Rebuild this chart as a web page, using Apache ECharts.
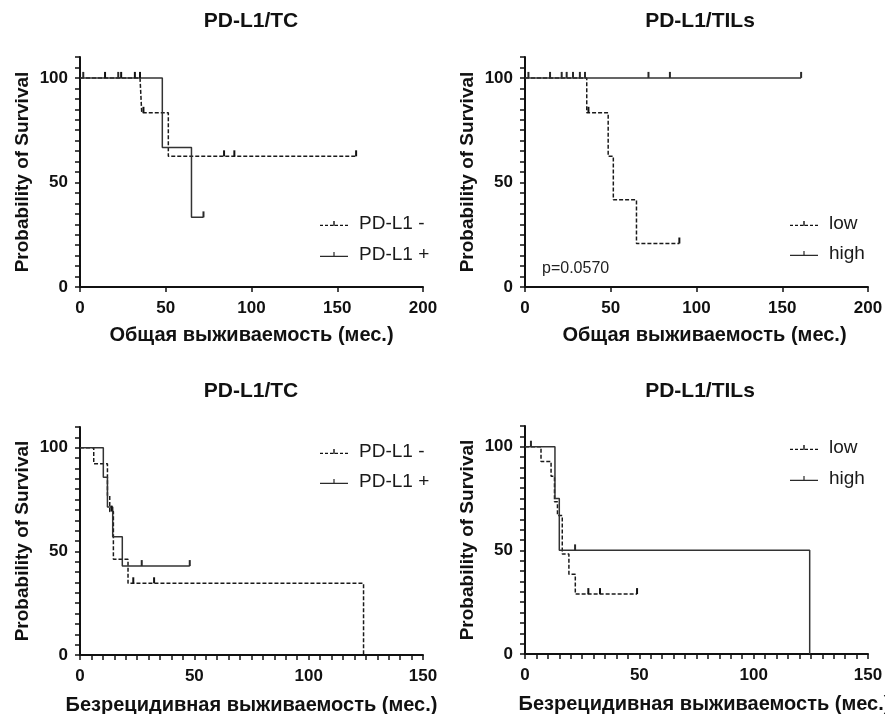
<!DOCTYPE html>
<html>
<head>
<meta charset="utf-8">
<script src="https://cdn.jsdelivr.net/npm/echarts@6/dist/echarts.min.js"></script>
<style>
  html, body { margin: 0; padding: 0; background: #fff; }
  #chart { width: 885px; height: 714px; }
</style>
</head>
<body>
<div id="chart"></div>
<script>
// Kaplan-Meier curves: events are [time, survival after the drop], censor are [time, survival]
const osTcNegEvents = [[0, 100], [36, 83.3], [51.5, 62.5]];
const osTcNegCensor = [[14.6, 100], [24, 100], [32, 100], [35, 100], [37, 83.3], [84, 62.5], [90, 62.5], [161, 62.5]];
const osTcPosEvents = [[0, 100], [48, 66.7], [65, 33.3]];
const osTcPosCensor = [[1.9, 100], [22.3, 100], [72, 33.3]];

const osTilLowEvents = [[0, 100], [36, 83.3], [48.5, 62.5], [51.5, 41.7], [65, 20.8]];
const osTilLowCensor = [[37, 83.3], [90, 20.8]];
const osTilHighEvents = [[0, 100]];
const osTilHighCensor = [[2, 100], [14.6, 100], [21.4, 100], [24.3, 100], [28, 100], [32, 100], [35, 100], [72, 100], [84.5, 100], [161, 100]];

const dfsTcNegEvents = [[0, 100], [6, 92.3], [12, 76.9], [13, 69.2], [14.6, 46.2], [21, 34.6], [124, 0]];
const dfsTcNegCensor = [[13.8, 69.2], [23.3, 34.6], [32.4, 34.6]];
const dfsTcPosEvents = [[0, 100], [10.2, 85.7], [12, 71.4], [14.3, 57.1], [18.5, 42.9]];
const dfsTcPosCensor = [[27, 42.9], [48, 42.9]];

const dfsTilLowEvents = [[0, 100], [7, 92.9], [11.4, 85.7], [12.9, 73.5], [14.2, 66.8], [16.3, 48.2], [19.2, 38.5], [22, 28.9]];
const dfsTilLowCensor = [[27.7, 28.9], [32.8, 28.9], [49, 28.9]];
const dfsTilHighEvents = [[0, 100], [13.1, 75], [15, 50], [124.5, 0]];
const dfsTilHighCensor = [[2.6, 100], [21.9, 50]];

const panelTitles = ['PD-L1/TC', 'PD-L1/TILs', 'PD-L1/TC', 'PD-L1/TILs'];
const xNames = ['Общая выживаемость (мес.)', 'Общая выживаемость (мес.)',
  'Безрецидивная выживаемость (мес.)', 'Безрецидивная выживаемость (мес.)'];
const xMax = [200, 200, 150, 150];
const tcNames = ['PD-L1 -', 'PD-L1 +'];
const tilNames = ['low', 'high'];
const pText = 'p=0.0570';

const FONT = 'Liberation Sans, Arial, sans-serif';
// legend icons: a line with a small censor tick on top
const ICON_DASHED = 'path://M0,3.7h3v1.3h-3z M5,3.7h3v1.3h-3z M10,3.7h3v1.3h-3z M15,3.7h3v1.3h-3z ' +
  'M20,3.7h3v1.3h-3z M25,3.7h3v1.3h-3z M13.3,0h1.4v5h-1.4z';
const ICON_SOLID = 'path://M0,3.7h28v1.3h-28z M13.4,0h1.2v5h-1.2z';

const grids = [
  { left: 80, top: 57, width: 343, height: 230 },
  { left: 525, top: 57, width: 343, height: 230 },
  { left: 80, top: 427, width: 343, height: 228 },
  { left: 525, top: 426, width: 343, height: 228 }
].map(g => Object.assign(g, { outerBoundsMode: 'none', containLabel: false }));

function km(name, events, censor, idx, dashed) {
  const pts = events.map(p => ({ value: p, symbol: 'none' }))
    .concat(censor.map(p => ({ value: p })))
    .sort((a, b) => a.value[0] - b.value[0]);
  return {
    type: 'line',
    name: name,
    xAxisIndex: idx,
    yAxisIndex: idx,
    step: 'end',
    data: pts,
    symbol: 'rect',
    symbolSize: [2, 6],
    symbolOffset: [0, -3],
    showSymbol: true,
    lineStyle: { color: dashed ? '#1a1a1a' : '#333', width: 1.5, type: dashed ? [4, 2] : 'solid' },
    itemStyle: { color: dashed ? '#111' : '#2a2a2a', borderWidth: 0 },
    emphasis: { disabled: true },
    silent: true
  };
}

const xAxes = grids.map((g, i) => ({
  type: 'value',
  gridIndex: i,
  min: 0,
  max: xMax[i],
  interval: i < 2 ? 50 : 5,
  name: xNames[i],
  nameLocation: 'middle',
  nameGap: i < 2 ? 38 : 40,
  nameTextStyle: {
    fontFamily: FONT, fontSize: 20, fontWeight: 'bold', color: '#111',
    padding: i % 2 ? [0, 0, 0, 16] : 0
  },
  axisLine: { onZero: false, lineStyle: { color: '#111', width: 2 } },
  axisTick: { show: true, inside: false, length: 5, lineStyle: { color: '#111', width: 1.5 } },
  axisLabel: {
    margin: 13,
    fontFamily: FONT, fontSize: 17, fontWeight: 'bold', color: '#111',
    formatter: v => (v % 50 === 0 ? String(v) : '')
  },
  splitLine: { show: false }
}));

const yAxes = grids.map((g, i) => ({
  type: 'value',
  gridIndex: i,
  min: 0,
  max: 110,
  interval: 5,
  name: 'Probability of Survival',
  nameLocation: 'middle',
  nameGap: 48,
  nameTextStyle: { fontFamily: FONT, fontSize: 19, fontWeight: 'bold', color: '#111' },
  axisLine: { show: true, onZero: false, lineStyle: { color: '#111', width: 2 } },
  axisTick: { show: true, inside: false, length: 5, lineStyle: { color: '#111', width: 1.5 } },
  axisLabel: {
    margin: 12,
    fontFamily: FONT, fontSize: 17, fontWeight: 'bold', color: '#111',
    formatter: v => (v % 50 === 0 ? String(v) : '')
  },
  splitLine: { show: false }
}));

function legendFor(names, left, top, gap) {
  return {
    data: [{ name: names[0], icon: ICON_DASHED }, { name: names[1], icon: ICON_SOLID }],
    left: left,
    top: top,
    itemGap: gap,
    orient: 'vertical',
    itemWidth: 28,
    itemHeight: 14,
    selectedMode: false,
    itemStyle: { borderWidth: 0 },
    textStyle: { fontFamily: FONT, fontSize: 19, color: '#1a1a1a', padding: [0, 0, 0, 6] }
  };
}

const option = {
  backgroundColor: '#fff',
  animation: false,
  title: [
    { text: panelTitles[0], left: 246, top: 6, textAlign: 'center' },
    { text: panelTitles[1], left: 695, top: 6, textAlign: 'center' },
    { text: panelTitles[2], left: 246, top: 376, textAlign: 'center' },
    { text: panelTitles[3], left: 695, top: 376, textAlign: 'center' }
  ].map(t => Object.assign(t, {
    textStyle: { fontFamily: FONT, fontSize: 21, fontWeight: 'bold', color: '#111' }
  })),
  grid: grids,
  xAxis: xAxes,
  yAxis: yAxes,
  legend: [
    legendFor(tcNames, 315, 209, 12),
    legendFor(tilNames, 785, 209, 11),
    legendFor(tcNames, 315, 437, 11),
    legendFor(tilNames, 785, 433, 12)
  ],
  graphic: [{
    type: 'text',
    left: 542,
    top: 261,
    style: { text: pText, font: '16px ' + FONT, fill: '#222' }
  }],
  series: [
    km(tcNames[0], osTcNegEvents, osTcNegCensor, 0, true),
    km(tcNames[1], osTcPosEvents, osTcPosCensor, 0, false),
    km(tilNames[0], osTilLowEvents, osTilLowCensor, 1, true),
    km(tilNames[1], osTilHighEvents, osTilHighCensor, 1, false),
    km(tcNames[0], dfsTcNegEvents, dfsTcNegCensor, 2, true),
    km(tcNames[1], dfsTcPosEvents, dfsTcPosCensor, 2, false),
    km(tilNames[0], dfsTilLowEvents, dfsTilLowCensor, 3, true),
    km(tilNames[1], dfsTilHighEvents, dfsTilHighCensor, 3, false)
  ]
};

const chart = echarts.init(document.getElementById('chart'));
chart.setOption(option);
</script>
</body>
</html>
